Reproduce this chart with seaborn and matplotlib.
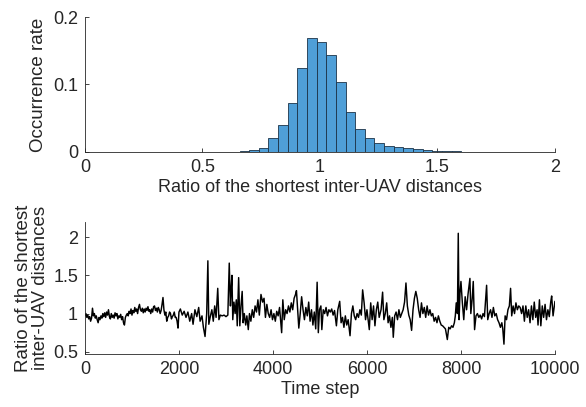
import numpy as np
import pandas as pd
import matplotlib
matplotlib.use('Agg')
import matplotlib.pyplot as plt
import seaborn as sns

# Histogram of the shortest inter-UAV distance ratio (probability per bin)
bin_edges = [0.576, 0.617, 0.658, 0.699, 0.740, 0.781, 0.822, 0.863, 0.904, 0.945,
             0.986, 1.027, 1.068, 1.109, 1.150, 1.191, 1.232, 1.273, 1.314, 1.355,
             1.396, 1.437, 1.478, 1.519, 1.560, 1.601, 1.642, 1.683, 1.724, 1.765,
             1.806, 1.847, 1.888, 1.929, 1.970, 2.011, 2.052]
bin_rates = [0.0003, 0.0004, 0.0006, 0.003, 0.0064, 0.020, 0.0395, 0.0726, 0.125,
             0.169, 0.1625, 0.1437, 0.103, 0.0588, 0.034, 0.0207, 0.0138, 0.0089,
             0.0074, 0.0054, 0.004, 0.002, 0.001, 0.0006, 0.0005, 0.0004, 0.0004,
             0.0003, 0.0003, 0.0003, 0.0002, 0.0002, 0.0002, 0.0002, 0.0002, 0.0002]

# Time series, first 2000 steps read every 20 steps
early_steps = list(range(0, 2001, 20))
early_ratio = [0.97, 1.0, 0.95, 0.98, 0.93, 0.96, 0.90, 0.94, 1.07, 0.97,
               1.0, 0.94, 0.97, 0.92, 0.88, 0.95, 0.92, 0.97, 0.94, 1.0,
               0.96, 1.01, 0.95, 1.02, 0.98, 1.05, 0.96, 0.93, 1.0, 0.95,
               0.98, 0.94, 1.01, 0.97, 1.0, 0.93, 0.97, 0.95, 0.99, 0.92,
               0.96, 0.88, 0.85, 0.95, 0.98, 1.0, 0.97, 1.03, 1.0, 1.06,
               0.98, 1.04, 1.01, 1.08, 1.03, 1.06, 1.0, 1.08, 1.12, 1.05,
               1.03, 1.07, 1.01, 1.06, 1.02, 1.07, 1.04, 1.09, 1.03, 1.05,
               1.0, 1.06, 1.02, 1.09, 1.1, 1.04, 1.07, 1.02, 1.08, 1.05,
               1.0, 1.04, 1.12, 1.21, 1.05, 0.98, 1.02, 0.9, 0.95, 0.97,
               1.02, 1.0, 0.93, 0.96, 0.98, 1.02, 0.95, 0.95, 0.90, 0.81,
               1.02]

# rest of the series, sampled at the visible features
later_steps = [2030, 2070,
               2110, 2150, 2190, 2230, 2270, 2300, 2340, 2380, 2420, 2450, 2490, 2520,
               2555, 2590, 2615, 2635, 2670, 2700, 2730, 2760, 2790, 2825, 2850, 2880,
               2920, 2960, 3000, 3040, 3070, 3095, 3110, 3127, 3145, 3170, 3195, 3220,
               3240, 3270, 3295, 3320, 3345, 3365, 3390, 3420, 3445, 3475, 3500, 3530,
               3560, 3590, 3620, 3650, 3680, 3710, 3745, 3780, 3810, 3840, 3870, 3900,
               3930, 3960, 3990, 4020, 4050, 4080, 4110, 4140, 4185, 4210, 4240, 4270,
               4300, 4330, 4360, 4390, 4420, 4450, 4480, 4500, 4520, 4550, 4580, 4610,
               4640, 4670, 4700, 4730, 4760, 4790, 4820, 4850, 4880, 4910, 4940, 4965,
               4990, 5020, 5040, 5070, 5100, 5130, 5160, 5190, 5220, 5250, 5280, 5310,
               5350, 5380, 5420, 5450, 5480, 5510, 5540, 5570, 5600, 5640, 5670, 5700,
               5730, 5760, 5790, 5820, 5850, 5880, 5908, 5940, 5970, 6000, 6050, 6080,
               6110, 6140, 6170, 6200, 6230, 6260, 6300, 6333, 6360, 6390, 6420, 6450,
               6480, 6510, 6540, 6560, 6590, 6620, 6650, 6680, 6710, 6740, 6770, 6800,
               6830, 6860, 6890, 6920, 6950, 6980, 7010, 7040, 7070, 7100, 7130, 7160,
               7190, 7220, 7250, 7280, 7310, 7340, 7370, 7400, 7430, 7460, 7490, 7520,
               7550, 7580, 7610, 7640, 7670, 7710, 7740, 7770, 7800, 7830, 7860, 7880,
               7900, 7925, 7943, 7960, 7980, 8000, 8030, 8060, 8090, 8120, 8150, 8191,
               8210, 8240, 8262, 8290, 8320, 8350, 8380, 8410, 8440, 8470, 8500, 8546,
               8570, 8600, 8630, 8660, 8690, 8720, 8750, 8780, 8810, 8840, 8870, 8890,
               8915, 8940, 8970, 9000, 9030, 9056, 9080, 9110, 9140, 9170, 9200, 9230,
               9260, 9290, 9320, 9350, 9380, 9410, 9440, 9470, 9500, 9530, 9560, 9590,
               9620, 9640, 9670, 9700, 9730, 9760, 9790, 9820, 9850, 9880, 9910, 9930,
               9960, 10000]
later_ratio = [1.06, 0.98,
               1.03, 0.95, 1.02, 0.9, 1.0, 0.86, 1.05, 0.96, 1.08, 0.9, 0.97, 0.82,
               0.70, 1.0, 1.69, 0.86, 0.97, 1.05, 0.9, 1.1, 0.95, 1.33, 0.92, 0.98,
               0.97, 0.98, 0.96, 0.98, 1.66, 1.1, 1.31, 1.5, 0.92, 1.15, 1.0, 1.18,
               0.84, 1.47, 0.84, 1.1, 1.29, 0.88, 1.0, 0.85, 0.97, 0.79, 1.0, 0.9,
               1.05, 0.95, 1.1, 1.02, 1.18, 0.98, 1.25, 1.15, 1.2, 0.95, 1.12, 1.0,
               0.95, 1.05, 0.92, 1.0, 0.9, 1.03, 0.97, 1.08, 0.75, 1.18, 0.92, 1.05,
               1.0, 1.1, 1.02, 1.14, 1.05, 1.2, 1.25, 1.3, 1.1, 0.81, 1.0, 1.22,
               1.05, 0.92, 1.08, 0.97, 1.15, 0.9, 1.05, 0.85, 1.02, 0.8, 1.41, 0.75,
               1.05, 1.1, 0.79, 1.05, 1.0, 1.08, 0.97, 1.05, 1.02, 1.06, 0.98, 1.04,
               0.84, 1.05, 1.16, 0.88, 0.95, 0.82, 0.97, 0.85, 0.92, 0.71, 1.0, 1.1,
               0.97, 0.92, 1.0, 0.95, 1.05, 0.98, 1.31, 1.14, 0.92, 1.05, 0.79, 1.14,
               0.92, 1.1, 0.84, 1.05, 1.15, 0.95, 1.05, 1.28, 0.92, 1.0, 1.14, 0.88,
               0.97, 0.82, 0.95, 0.69, 0.97, 1.02, 0.92, 1.05, 0.95, 1.0, 1.05, 1.15,
               1.40, 1.1, 0.98, 0.92, 0.78, 1.05, 1.2, 1.29, 1.2, 1.05, 0.95, 1.14,
               1.0, 1.08, 0.95, 1.1, 0.98, 1.05, 0.97, 1.0, 0.9, 0.95, 0.88, 0.97,
               0.9, 0.85, 0.84, 0.82, 0.8, 0.66, 0.82, 0.8, 0.84, 0.82, 0.88, 0.97,
               1.14, 1.0, 2.05, 0.92, 1.27, 1.42, 1.14, 0.92, 1.22, 1.05, 1.25, 1.46,
               1.0, 1.2, 1.42, 0.79, 0.97, 1.0, 0.95, 0.98, 0.93, 1.0, 0.96, 1.37,
               0.92, 1.0, 1.05, 0.95, 1.08, 0.97, 1.0, 0.92, 0.88, 0.82, 0.88, 0.8,
               0.6, 0.97, 0.92, 1.05, 1.1, 1.33, 0.97, 1.1, 1.0, 1.14, 1.05, 1.1,
               1.08, 1.0, 1.1, 0.9, 1.1, 0.95, 1.05, 0.88, 1.1, 0.92, 1.15, 0.95,
               1.05, 0.85, 1.18, 0.84, 1.1, 0.95, 1.12, 0.92, 1.05, 0.96, 1.15, 1.23,
               0.97, 1.16]

sns.set_style("ticks")
plt.rcParams['font.family'] = ['Liberation Sans', 'DejaVu Sans']
plt.rcParams['text.color'] = '#262626'
plt.rcParams['axes.labelcolor'] = '#262626'
plt.rcParams['xtick.color'] = '#262626'
plt.rcParams['ytick.color'] = '#262626'
plt.rcParams['axes.edgecolor'] = '#262626'

fig = plt.figure(figsize=(5.86, 4.07), dpi=100)
ax1 = fig.add_axes([0.145, 0.627, 0.802, 0.331])
ax2 = fig.add_axes([0.145, 0.130, 0.802, 0.325])

# Top: histogram
centers = [(bin_edges[i] + bin_edges[i + 1]) / 2 for i in range(len(bin_rates))]
hist_df = pd.DataFrame({'ratio': centers, 'rate': bin_rates})
sns.histplot(data=hist_df, x='ratio', weights='rate', bins=bin_edges, ax=ax1,
             color='#4f9fd8', alpha=1.0, edgecolor='#1c3348', linewidth=0.6)
ax1.set_xlim(0, 2)
ax1.set_ylim(0, 0.2)
ax1.set_xticks([0, 0.5, 1, 1.5, 2])
ax1.set_xticklabels(['0', '0.5', '1', '1.5', '2'])
ax1.set_yticks([0, 0.1, 0.2])
ax1.set_yticklabels(['0', '0.1', '0.2'])
ax1.set_xlabel('Ratio of the shortest inter-UAV distances', fontsize=13, labelpad=2)
ax1.set_ylabel('Occurrence rate', fontsize=13.5, labelpad=4)

# Bottom: time series
ts_df = pd.DataFrame({'t': early_steps + later_steps, 'r': early_ratio + later_ratio})
sns.lineplot(data=ts_df, x='t', y='r', ax=ax2, color='black', linewidth=1.05)
ax2.set_xlim(0, 10000)
ax2.set_ylim(0.47, 2.2)
ax2.set_xticks([0, 2000, 4000, 6000, 8000, 10000])
ax2.set_yticks([0.5, 1, 1.5, 2])
ax2.set_yticklabels(['0.5', '1', '1.5', '2'])
ax2.set_xlabel('Time step', fontsize=13, labelpad=2)
ax2.set_ylabel('Ratio of the shortest\ninter-UAV distances', fontsize=13.5,
               labelpad=3, linespacing=1.0)

for ax in (ax1, ax2):
    sns.despine(ax=ax)
    ax.tick_params(direction='in', length=3, width=0.6, labelsize=13, pad=5)
    for s in ('left', 'bottom'):
        ax.spines[s].set_linewidth(0.6)

fig.savefig('out.png', dpi=100)
